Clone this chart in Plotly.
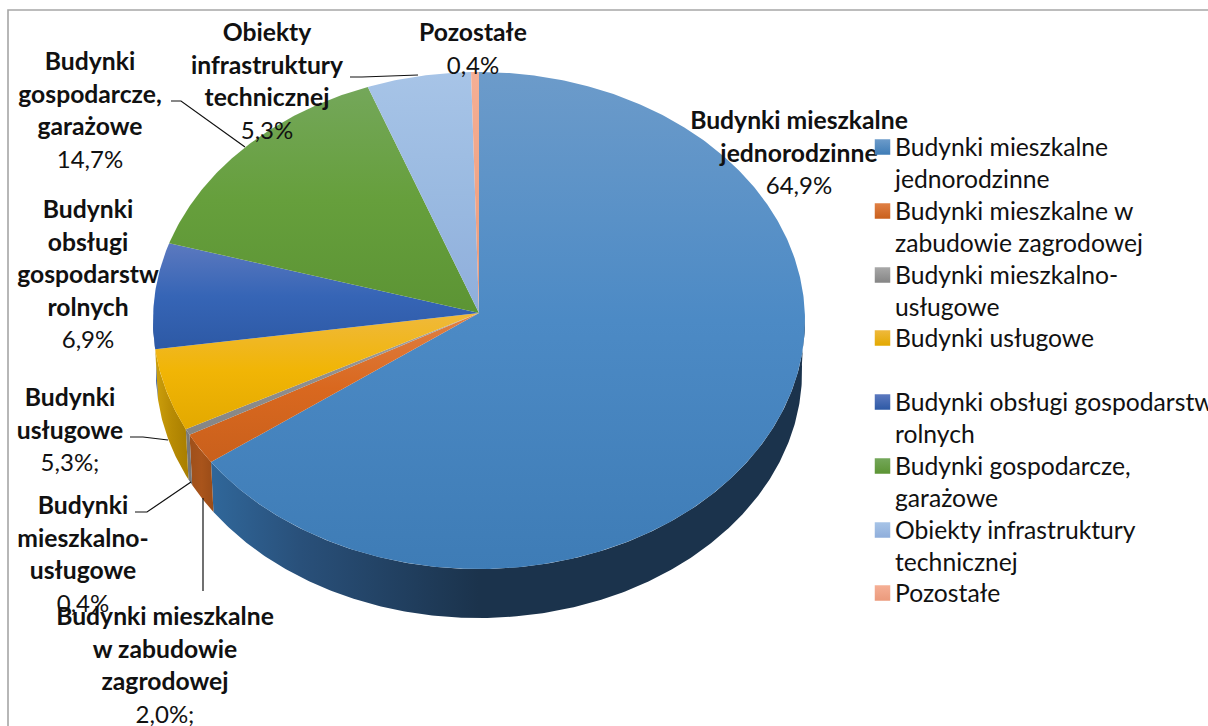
import numpy as np
import plotly.graph_objects as go

# ---------- data ----------
categories = ["Budynki mieszkalne jednorodzinne", "Budynki mieszkalne w zabudowie zagrodowej",
              "Budynki mieszkalno-usługowe", "Budynki usługowe",
              "Budynki obsługi gospodarstw rolnych", "Budynki gospodarcze, garażowe",
              "Obiekty infrastruktury technicznej", "Pozostałe"]
values = [64.9, 2.0, 0.4, 5.3, 6.9, 14.7, 5.3, 0.4]
legend_lines = [["Budynki mieszkalne", "jednorodzinne"], ["Budynki mieszkalne w", "zabudowie zagrodowej"],
                ["Budynki mieszkalno-", "usługowe"], ["Budynki usługowe"],
                ["Budynki obsługi gospodarstw", "rolnych"], ["Budynki gospodarcze,", "garażowe"],
                ["Obiekty infrastruktury", "technicznej"], ["Pozostałe"]]
label_lines = [["Budynki mieszkalne", "jednorodzinne"], ["Budynki mieszkalne", "w zabudowie", "zagrodowej"],
               ["Budynki", "mieszkalno-", "usługowe"], ["Budynki", "usługowe"],
               ["Budynki", "obsługi", "gospodarstw", "rolnych"], ["Budynki", "gospodarcze,", "garażowe"],
               ["Obiekty", "infrastruktury", "technicznej"], ["Pozostałe"]]
percent_labels = ["64,9%", "2,0%;", "0,4%", "5,3%;", "6,9%", "14,7%", "5,3%", "0,4%"]

# ---------- style ----------
face_colors = [("#6C9BCA", "#4C8AC5", "#3E7CB6"), ("#E08045", "#D9681F", "#C9601C"),
               ("#A8A8A8", "#909090", "#858585"), ("#EFB93C", "#F1B505", "#E3A900"),
               ("#5C79BF", "#3665B6", "#2D59A5"), ("#74A75A", "#669F3C", "#5C9434"),
               ("#A7C4E7", "#9ABAE1", "#8FAEDB"), ("#F5AF95", "#F0A486", "#EB9A7C")]
wall_colors = [("#30679A", "#29507A", "#1B334C"), ("#9E501B", "#A9541B", "#9A4C18"),
               ("#7C7C7C", "#777777", "#727272"), ("#CDA00C", "#B88B04", "#A87E00"),
               ("#2B4E8C", "#2B4E8C", "#2B4E8C"), ("#4E7D2D", "#4E7D2D", "#4E7D2D"),
               ("#7893B8", "#7893B8", "#7893B8"), ("#C08570", "#C08570", "#C08570")]
wall_stops = [(0.0, 0.15, 0.45)] + [(0.0, 0.5, 1.0)] * 7
swatch_y = [147, 211, 275, 338, 402, 466, 530, 593]
label_pos = [(799, 120), (165, 616), (83, 505), (70, 397), (88, 209), (90, 61), (267, 32), (473, 32)]
UNDER_PIE = 4          # this label is partly hidden by the pie in the reference
FONT = "Lato"
BOLD_SIZE, TEXT_SIZE, LEGEND_SIZE = 24.7, 24.0, 24.7
LINE = 32.5
TEXT_NUDGE = 3         # scatter text sits slightly above its anchor row
INK = "#111111"

# ---------- perspective projection of the pie disc into the page ----------
AX, AY, SX, SY, K = 479.0, 313.0, 325.85, 248.3, 0.0302
LOWER_SCALE, LOWER_DROP = 0.991, 51.3


def project(theta_deg, lower=False):
    t = np.radians(theta_deg)
    X, Y = np.sin(t), np.cos(t)
    w = 1 + K * Y
    s = LOWER_SCALE if lower else 1.0
    d = LOWER_DROP if lower else 0.0
    return AX + s * SX * X / w, AY + d - s * SY * Y / w


def label_rows(indices):
    xs, ys, texts, sizes = [], [], [], []
    for i in indices:
        cx, cy = label_pos[i]
        cy += TEXT_NUDGE
        for j, line in enumerate(label_lines[i]):
            xs.append(cx); ys.append(cy + j * LINE); texts.append(f"<b>{line}</b>"); sizes.append(BOLD_SIZE)
        xs.append(cx); ys.append(cy + len(label_lines[i]) * LINE)
        texts.append(percent_labels[i]); sizes.append(TEXT_SIZE)
    return xs, ys, texts, sizes


def text_trace(xs, ys, texts, sizes, position="middle center"):
    return go.Scatter(x=xs, y=ys, text=texts, mode="text", textposition=position, showlegend=False,
                      hoverinfo="skip", textfont=dict(family=FONT, size=sizes, color=INK))


edges = np.concatenate([[0.0], np.cumsum(values)]) / sum(values) * 360.0
fig = go.Figure()

# label that sits beneath the pie
fig.add_trace(text_trace(*label_rows([UNDER_PIE])))

# side walls
for i, name in enumerate(categories):
    a, b = max(edges[i], 90.0), min(edges[i + 1], 270.0)
    if a >= b:
        continue
    th = np.linspace(a, b, max(int((b - a) * 2), 4))
    x1, y1 = project(th)
    x2, y2 = project(th[::-1], lower=True)
    xs, ys = np.concatenate([x1, x2, x1[:1]]), np.concatenate([y1, y2, y1[:1]])
    c, st = wall_colors[i], wall_stops[i]
    scale = [[st[0], c[0]], [st[1], c[1]], [st[2], c[2]]]
    if st[2] < 1:
        scale.append([1, c[2]])
    fig.add_trace(go.Scatter(x=xs, y=ys, mode="lines", line=dict(width=0), fill="toself",
                             fillgradient=dict(type="horizontal", colorscale=scale,
                                               start=float(xs.min()), stop=float(xs.max())),
                             name=name, showlegend=False, hoverinfo="skip"))

# top faces
for i, name in enumerate(categories):
    th = np.linspace(edges[i], edges[i + 1], max(int((edges[i + 1] - edges[i]) * 2), 4))
    x1, y1 = project(th)
    xs = np.concatenate([[AX], x1, [AX]])
    ys = np.concatenate([[AY], y1, [AY]])
    c = face_colors[i]
    fig.add_trace(go.Scatter(x=xs, y=ys, mode="lines", line=dict(width=0), fill="toself",
                             fillgradient=dict(type="vertical",
                                               colorscale=[[0, c[0]], [0.5, c[1]], [1, c[2]]],
                                               start=float(ys.min()), stop=float(ys.max())),
                             name=f"{name}: {percent_labels[i]}", showlegend=False, hoverinfo="name"))

# remaining data labels
fig.add_trace(text_trace(*label_rows([i for i in range(len(categories)) if i != UNDER_PIE])))

# legend text
lx, ly, lt = [], [], []
for y, lines in zip(swatch_y, legend_lines):
    for j, line in enumerate(lines):
        lx.append(895); ly.append(y + j * 32 + TEXT_NUDGE); lt.append(line)
fig.add_trace(text_trace(lx, ly, lt, [LEGEND_SIZE] * len(lt), position="middle right"))

# legend swatches
fig.add_trace(go.Scatter(x=[882.5] * len(categories), y=swatch_y, mode="markers", showlegend=False,
                         hoverinfo="skip",
                         marker=dict(symbol="square", size=15.5, color=[c[0] for c in face_colors],
                                     gradient=dict(type="vertical", color=[c[2] for c in face_colors]),
                                     line=dict(width=0))))

# leader lines
leaders = [[(350, 77), (362, 77), (418, 75)], [(171, 101), (181, 101), (245, 147)],
           [(130, 437), (143, 437), (168, 440)], [(135, 512), (147, 512), (191, 482)],
           [(203, 498), (203, 591)]]
shapes = []
for pts in leaders:
    path = "M " + " L ".join(f"{x} {y}" for x, y in pts)
    shapes.append(dict(type="path", path=path, xref="x", yref="y",
                       line=dict(color="#111111", width=1.2), layer="above"))
# chart frame
shapes.append(dict(type="rect", x0=8, y0=10, x1=1300, y1=900, xref="x", yref="y",
                   line=dict(color="#A6A6A6", width=1.6), layer="below"))

fig.update_layout(width=1208, height=726, margin=dict(l=0, r=0, t=0, b=0, pad=0, autoexpand=False),
                  paper_bgcolor="white", plot_bgcolor="white", showlegend=False,
                  xaxis=dict(range=[0, 1208], visible=False, fixedrange=True),
                  yaxis=dict(range=[726, 0], visible=False, fixedrange=True),
                  shapes=shapes)
fig.write_html("out.html", config=dict(displayModeBar=False),
               post_script="document.body.style.margin='0';document.body.style.overflow='hidden';")
